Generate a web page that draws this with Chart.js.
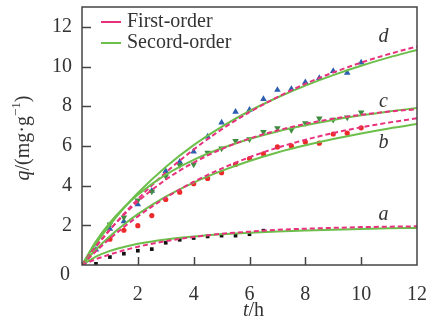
<!DOCTYPE html>
<html>
<head>
<meta charset="utf-8">
<script src="https://cdn.jsdelivr.net/npm/chart.js@4.4.1/dist/chart.umd.min.js"></script>
<style>
	html, body { margin: 0; padding: 0; background: #fff; }
	#wrap { width: 437px; height: 325px; }
</style>
</head>
<body>
<div id="wrap"><canvas id="chart" width="437" height="325"></canvas></div>
<script>
// observed points (t in h, q in mg/g)
const tA = [0.5, 1, 1.5, 2, 2.5, 3, 3.5, 4, 4.5, 5, 5.5, 6, 6.5];
const qA = [0.06, 0.4, 0.57, 0.72, 0.8, 1.12, 1.27, 1.36, 1.44, 1.48, 1.48, 1.55, 1.73];

const tB = [1, 1.5, 2, 2.5, 3, 3.5, 4, 4.5, 5, 5.5, 6, 6.5, 7, 7.5, 8, 8.5, 9, 9.5, 10];
const qB = [1.3, 1.75, 1.98, 2.49, 3.3, 3.67, 4.1, 4.36, 4.65, 5.07, 5.36, 5.6, 5.95, 6.0, 6.2, 6.14, 6.6, 6.64, 6.91];

const tC = [1, 1.5, 2, 2.5, 3, 3.5, 4, 4.5, 5, 5.5, 6, 6.5, 7, 7.5, 8, 8.5, 9, 9.5, 10];
const qC = [2.05, 2.4, 3.25, 3.7, 4.47, 5.03, 5.07, 5.66, 5.87, 6.25, 6.34, 6.71, 6.9, 6.81, 7.15, 7.39, 7.32, 7.44, 7.69];

const tD = [0.5, 1, 1.5, 2, 2.5, 3, 3.5, 4, 4.5, 5, 5.5, 6, 6.5, 7, 7.5, 8, 8.5, 9, 9.5, 10];
const qD = [0.77, 1.82, 2.2, 3.05, 3.74, 4.73, 5.2, 5.72, 6.47, 7.18, 7.72, 7.82, 8.36, 8.82, 8.87, 9.21, 9.42, 9.77, 9.68, 10.2];

// fitted curves, read at these times
const tFit = [0, 0.5, 1, 1.5, 2, 3, 4, 5, 6, 7, 8, 9, 10, 11, 12];
const firstA = [0, 0.29, 0.53, 0.74, 0.92, 1.2, 1.41, 1.57, 1.68, 1.77, 1.83, 1.87, 1.91, 1.93, 1.95];
const secondA = [0, 0.42, 0.71, 0.91, 1.07, 1.29, 1.44, 1.55, 1.63, 1.69, 1.74, 1.78, 1.82, 1.85, 1.87];
const firstB = [0, 0.69, 1.33, 1.91, 2.45, 3.39, 4.19, 4.86, 5.43, 5.91, 6.31, 6.65, 6.94, 7.18, 7.39];
const secondB = [0, 0.78, 1.45, 2.04, 2.56, 3.44, 4.15, 4.74, 5.24, 5.67, 6.03, 6.35, 6.63, 6.88, 7.1];
const firstC = [0, 0.95, 1.79, 2.53, 3.2, 4.3, 5.16, 5.84, 6.37, 6.78, 7.11, 7.37, 7.57, 7.73, 7.85];
const secondC = [0, 1.19, 2.13, 2.9, 3.54, 4.55, 5.3, 5.88, 6.35, 6.73, 7.04, 7.31, 7.54, 7.74, 7.91];
const firstD = [0, 0.92, 1.77, 2.57, 3.32, 4.66, 5.82, 6.83, 7.7, 8.46, 9.13, 9.7, 10.2, 10.63, 11.01];
const secondD = [0, 1.07, 2.02, 2.87, 3.63, 4.94, 6.04, 6.96, 7.76, 8.44, 9.04, 9.57, 10.04, 10.46, 10.84];

const xTicks = [0, 2, 4, 6, 8, 10, 12];
const yTicks = [0, 2, 4, 6, 8, 10, 12];

const curveLabels = ['a', 'b', 'c', 'd'];
const curveLabelPos = [[10.8, 2.55], [10.8, 6.15], [10.8, 8.25], [10.8, 11.5]];
const legendLabels = ['First-order', 'Secord-order'];

const PINK = '#e8317c';
const GREEN = '#6cbf4a';
const SERIF = '"Liberation Serif", "DejaVu Serif", serif';
const FS = 20;

function pts(xs, ys) {
	return xs.map((x, i) => ({ x, y: ys[i] }));
}

function fitLine(ys, dashed) {
	return {
		type: 'line',
		data: pts(tFit, ys),
		borderColor: dashed ? PINK : GREEN,
		borderWidth: 2,
		borderDash: dashed ? [5, 3] : [],
		pointRadius: 0,
		fill: false,
		cubicInterpolationMode: 'monotone',
	};
}

function markers(xs, ys, color, style, radius, rotation) {
	return {
		type: 'scatter',
		data: pts(xs, ys),
		backgroundColor: color,
		borderColor: color,
		borderWidth: 0,
		pointStyle: style,
		pointRadius: radius,
		rotation: rotation || 0,
	};
}

const decor = {
	id: 'decor',
	afterDraw(chart) {
		const { ctx, chartArea: a, scales: { x, y } } = chart;
		ctx.save();
		// frame
		ctx.strokeStyle = '#444';
		ctx.lineWidth = 1.5;
		ctx.strokeRect(a.left, a.top, a.right - a.left, a.bottom - a.top);
		// inward ticks
		ctx.beginPath();
		xTicks.slice(1, -1).forEach((v) => {
			const px = Math.round(x.getPixelForValue(v)) + 0.5;
			ctx.moveTo(px, a.bottom);
			ctx.lineTo(px, a.bottom - 8);
		});
		yTicks.slice(1).forEach((v) => {
			const py = Math.round(y.getPixelForValue(v)) + 0.5;
			ctx.moveTo(a.left, py);
			ctx.lineTo(a.left + 9, py);
		});
		ctx.stroke();

		// shared origin label
		ctx.fillStyle = '#333';
		ctx.font = FS + 'px ' + SERIF;
		ctx.textAlign = 'center';
		ctx.textBaseline = 'middle';
		ctx.fillText('0', a.left - 17, a.bottom + 10);

		// curve letters
		ctx.font = 'italic ' + FS + 'px ' + SERIF;
		curveLabels.forEach((s, i) => {
			ctx.fillText(s, x.getPixelForValue(curveLabelPos[i][0]), y.getPixelForValue(curveLabelPos[i][1]));
		});

		// legend
		ctx.textAlign = 'left';
		ctx.font = FS + 'px ' + SERIF;
		[PINK, GREEN].forEach((c, i) => {
			const ly = a.top + 15 + i * 21;
			ctx.strokeStyle = c;
			ctx.lineWidth = 2;
			ctx.beginPath();
			ctx.moveTo(a.left + 19, ly);
			ctx.lineTo(a.left + 39, ly);
			ctx.stroke();
			ctx.fillText(legendLabels[i], a.left + 45, ly);
		});

		// axis titles
		ctx.fillStyle = '#333';
		ctx.textBaseline = 'middle';
		const xt = [['t', 'italic ' + FS + 'px '], ['/h', FS + 'px ']];
		let w = 0;
		xt.forEach(([s, f]) => { ctx.font = f + SERIF; w += ctx.measureText(s).width; });
		let cx = (a.left + a.right) / 2 + 4 - w / 2;
		xt.forEach(([s, f]) => {
			ctx.font = f + SERIF;
			ctx.fillText(s, cx, 311);
			cx += ctx.measureText(s).width;
		});

		ctx.translate(24, 138);
		ctx.rotate(-Math.PI / 2);
		const yt = [['q', 'italic ' + FS + 'px ', 0], ['/(mg·g', FS + 'px ', 0], ['−1', '13px ', -7], [')', FS + 'px ', 0]];
		w = 0;
		yt.forEach(([s, f]) => { ctx.font = f + SERIF; w += ctx.measureText(s).width; });
		cx = -w / 2;
		yt.forEach(([s, f, dy]) => {
			ctx.font = f + SERIF;
			ctx.fillText(s, cx, dy);
			cx += ctx.measureText(s).width;
		});
		ctx.restore();
	},
};

new Chart(document.getElementById('chart'), {
	data: {
		datasets: [
			fitLine(firstA, true), fitLine(secondA, false),
			fitLine(firstB, true), fitLine(secondB, false),
			fitLine(firstC, true), fitLine(secondC, false),
			fitLine(firstD, true), fitLine(secondD, false),
			markers(tA, qA, '#111', 'rect', 2.6),
			markers(tB, qB, '#ee2b2b', 'circle', 2.6),
			markers(tC, qC, '#3d8c3f', 'triangle', 3.8, 180),
			markers(tD, qD, '#2d5db0', 'triangle', 3.8),
		],
	},
	options: {
		responsive: false,
		animation: false,
		layout: { padding: { top: 7, right: 20, left: 0, bottom: 0 } },
		plugins: { legend: { display: false }, tooltip: { enabled: false } },
		scales: {
			x: {
				type: 'linear',
				min: 0,
				max: 12,
				afterBuildTicks: (s) => { s.ticks = xTicks.map((v) => ({ value: v })); },
				afterFit: (s) => { s.height = 60; },
				grid: { display: false },
				border: { display: false },
				ticks: {
					padding: 10,
					color: '#333',
					font: { family: SERIF, size: FS },
					callback: (v) => (v === 0 ? '' : v),
				},
			},
			y: {
				type: 'linear',
				min: 0,
				max: 13,
				afterBuildTicks: (s) => { s.ticks = yTicks.map((v) => ({ value: v })); },
				afterFit: (s) => { s.width = 82; },
				grid: { display: true, drawOnChartArea: false, drawTicks: true, tickLength: 10, tickColor: 'rgba(0,0,0,0)' },
				border: { display: false },
				ticks: {
					padding: 0,
					color: '#333',
					font: { family: SERIF, size: FS, lineHeight: 0.6 },
					callback: (v) => (v === 0 ? '' : v),
				},
			},
		},
	},
	plugins: [decor],
});
</script>
</body>
</html>
